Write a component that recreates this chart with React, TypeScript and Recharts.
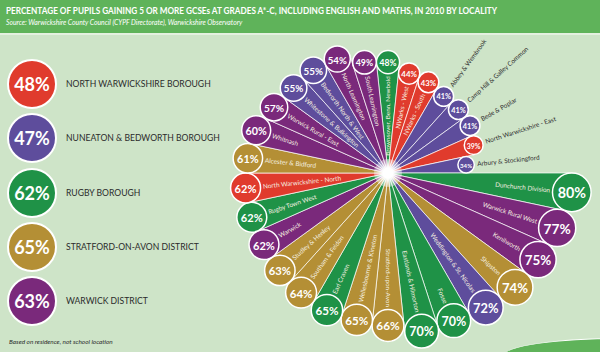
import { RadialBarChart, RadialBar, PolarAngleAxis, PolarRadiusAxis, Cell, LabelList } from 'recharts';

// district summary (left legend)
const districtNames = [
    'NORTH WARWICKSHIRE BOROUGH',
    'NUNEATON & BEDWORTH BOROUGH',
    'RUGBY BOROUGH',
    'STRATFORD-ON-AVON DISTRICT',
    'WARWICK DISTRICT',
];
const districtValues = [48, 47, 62, 65, 63];

// localities, clockwise from the top
const localityNames = [
    'Brownsover, Benn, Newbold',
    'NWarks - West',
    'NWarks - South',
    'Abbey & Wembrook',
    'Camp Hill & Galley Common',
    'Bede & Poplar',
    'North Warwickshire - East',
    'Arbury & Stockingford',
    'Dunchurch Division',
    'Warwick Rural West',
    'Kenilworth',
    'Shipston',
    'Weddington & St. Nicolas',
    'Fosse',
    'Eastlands & Hilmorton',
    'Stratford-upon-Avon',
    'Wellesbourne & Kineton',
    'Earl Craven',
    'Southam & Feldon',
    'Studley & Henley',
    'Warwick',
    'Rugby Town West',
    'North Warwickshire - North',
    'Alcester & Bidford',
    'Whitnash',
    'Warwick Rural - East',
    'Whitestone & Bulkington',
    'Bedworth North & West',
    'North Leamington',
    'South Leamington',
];
const localityValues = [48, 44, 43, 41, 41, 41, 39, 34, 80, 77, 75, 74, 72, 70, 70, 66, 65, 65, 64, 63, 62, 62, 62, 61, 60, 57, 55, 55, 54, 49];
// index into districtNames
const localityDistrict = [2, 0, 0, 1, 1, 1, 0, 1, 2, 4, 4, 3, 1, 2, 2, 3, 3, 2, 3, 3, 4, 2, 0, 3, 4, 4, 1, 1, 4, 4];

const districtColors = ['#e03b2d', '#5e4d9c', '#1f9247', '#b48f35', '#7a297b'];

const RAD = Math.PI / 180;
const FONT = 'Lato, "Open Sans", sans-serif';

const data = localityNames.map((name, i) => ({ name, value: localityValues[i] }));

function SpokeLabel(props: any) {
    const { viewBox, index } = props;
    if (!viewBox || index == null) return null;
    const { cx, cy, outerRadius, startAngle, endAngle } = viewBox;
    const value = localityValues[index];
    const color = districtColors[localityDistrict[index]];
    const mid = (startAngle + endAngle) / 2;
    const half = Math.abs(endAngle - startAngle) / 2;
    const R = outerRadius;
    const rc = R * Math.sin(half * RAD);
    const px = (r: number) => cx + r * Math.cos(-mid * RAD);
    const py = (r: number) => cy + r * Math.sin(-mid * RAD);

    let d = -mid;
    d = ((d % 360) + 540) % 360 - 180;
    const flipped = d > 90 || d < -90;
    const rot = flipped ? (d > 0 ? d - 180 : d + 180) : d;

    const outside = value <= 41;
    const rText = outside ? R + rc + 3 : R - rc - 2.5;
    const tx = px(rText);
    const ty = py(rText);
    const anchor = outside ? (flipped ? 'end' : 'start') : (flipped ? 'start' : 'end');

    return (
        <g>
            <text x={tx} y={ty} transform={`rotate(${rot} ${tx} ${ty})`} textAnchor={anchor}
                dominantBaseline="central" fontSize={6.4} fontFamily={FONT}
                fill={outside ? '#2e2e2e' : '#f5efe0'}>
                {localityNames[index]}
            </text>
            <circle cx={px(R)} cy={py(R)} r={rc} fill={color} stroke="#fff" strokeWidth={1.5} />
            <text x={px(R)} y={py(R) + 0.5} textAnchor="middle" dominantBaseline="central"
                fontSize={rc * 0.74} fontWeight={700} fontFamily={FONT} fill="#fff">
                {value}%
            </text>
        </g>
    );
}

export default function App() {
    return (
        <div style={{ position: 'absolute', left: 0, top: 0, width: 600, height: 352, overflow: 'hidden', background: '#cee4c8', fontFamily: FONT }}>
            {/* header */}
            <div style={{ position: 'absolute', left: 0, top: 0, width: 600, height: 33, background: '#5fb35a', borderBottom: '2px solid #e4f0e0' }}>
                <div style={{ position: 'absolute', left: 6, top: 4, color: '#fff', fontWeight: 700, fontSize: 9.8, whiteSpace: 'nowrap', transform: 'scaleX(0.835)', transformOrigin: 'left top' }}>
                    PERCENTAGE OF PUPILS GAINING 5 OR MORE GCSEs AT GRADES A*-C, INCLUDING ENGLISH AND MATHS, IN 2010 BY LOCALITY
                </div>
                <div style={{ position: 'absolute', left: 6, top: 18, color: '#fff', fontStyle: 'italic', fontSize: 6.8, whiteSpace: 'nowrap' }}>
                    Source: Warwickshire County Council (CYPF Directorate), Warwickshire Observatory
                </div>
            </div>

            {/* decorative swoosh bottom right */}
            <div style={{ position: 'absolute', left: 504, top: 338, width: 232, height: 34, borderRadius: '50%', background: '#5fb35a', borderTop: '1px solid #fff' }} />

            <div style={{ position: 'absolute', left: 0, top: 0 }}>
                <RadialBarChart width={600} height={352} cx={388} cy={173} innerRadius={0} outerRadius={231}
                    startAngle={84} endAngle={-276} layout="centric" data={data}
                    barCategoryGap={0} barGap={0} margin={{ top: 0, right: 0, bottom: 0, left: 0 }}>
                    <PolarAngleAxis type="category" dataKey="name" tick={false} axisLine={false} tickLine={false} />
                    <PolarRadiusAxis type="number" domain={[0, 100]} tick={false} axisLine={false} tickLine={false} />
                    <RadialBar dataKey="value" isAnimationActive={false} stroke="#fff" strokeWidth={0.7}>
                        {data.map((_, i) => (
                            <Cell key={i} fill={districtColors[localityDistrict[i]]} />
                        ))}
                        <LabelList dataKey="value" content={SpokeLabel} />
                    </RadialBar>
                </RadialBarChart>
            </div>

            {/* centre glow */}
            <div style={{ position: 'absolute', left: 374, top: 159, width: 28, height: 28, borderRadius: '50%', background: 'radial-gradient(circle, #fff 0%, #fff 25%, rgba(255,255,255,0.6) 50%, rgba(255,255,255,0) 100%)' }} />

            {/* district legend */}
            {districtNames.map((name, i) => (
                <div key={name} style={{ position: 'absolute', left: 7, top: 59 + i * 54.3, height: 50, display: 'flex', alignItems: 'center' }}>
                    <div style={{ width: 46, height: 46, borderRadius: '50%', background: districtColors[i], border: '2px solid #fff', display: 'flex', alignItems: 'center', justifyContent: 'center', color: '#fff', fontWeight: 700, fontSize: 18 }}>
                        {districtValues[i]}%
                    </div>
                    <div style={{ marginLeft: 9, color: '#2b2b2b', fontSize: 8.6, whiteSpace: 'nowrap' }}>{name}</div>
                </div>
            ))}

            <div style={{ position: 'absolute', left: 9, top: 338, fontSize: 6.4, fontStyle: 'italic', color: '#2b2b2b', whiteSpace: 'nowrap' }}>
                Based on residence, not school location
            </div>
        </div>
    );
}
